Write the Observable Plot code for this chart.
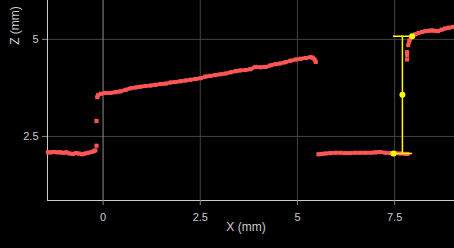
<!DOCTYPE html>
<html>
<head>
<meta charset="utf-8">
<script src="https://cdn.jsdelivr.net/npm/d3@7"></script>
<script src="https://cdn.jsdelivr.net/npm/@observablehq/plot@0.6"></script>
<style>
html,body{margin:0;padding:0;background:#000;}
</style>
</head>
<body>
<div id="chart"></div>
<script>
// Profile segments (X mm, Z mm)
const seg1X = [-1.42,-1.34,-1.26,-1.18,-1.10,-1.02,-0.94,-0.86,-0.78,-0.70,-0.62,-0.54,-0.46,-0.38,-0.30,-0.24,-0.20];
const seg1Z = [2.09,2.09,2.10,2.09,2.09,2.08,2.09,2.06,2.05,2.07,2.06,2.04,2.06,2.08,2.10,2.12,2.14];
const strayX = [-0.17,-0.17,7.82,7.82,7.82];
const strayZ = [2.26,2.90,4.48,4.59,4.67];
const seg2X = [-0.15,-0.13,-0.06,0.06,0.19,0.32,0.45,0.58,0.71,0.84,0.96,1.09,1.22,1.35,1.48,1.61,1.74,1.86,1.99,2.12,2.25,2.38,2.51,2.63,2.76,2.89,3.02,3.15,3.28,3.41,3.53,3.66,3.79,3.92,4.05,4.18,4.31,4.43,4.56,4.69,4.82,4.95,5.08,5.21,5.33,5.39,5.44,5.47];
const seg2Z = [3.51,3.56,3.60,3.62,3.62,3.64,3.66,3.70,3.74,3.76,3.78,3.80,3.81,3.83,3.85,3.86,3.89,3.90,3.92,3.94,3.96,3.98,4.00,4.04,4.06,4.08,4.10,4.12,4.15,4.18,4.20,4.21,4.23,4.29,4.28,4.29,4.33,4.36,4.38,4.41,4.45,4.48,4.50,4.52,4.54,4.53,4.48,4.42];
const seg3X = [5.54,5.62,5.72,5.85,5.98,6.11,6.23,6.36,6.49,6.62,6.75,6.88,7.01,7.13,7.26,7.39,7.52,7.65,7.78,7.83];
const seg3Z = [2.04,2.05,2.06,2.07,2.08,2.08,2.07,2.07,2.08,2.08,2.08,2.08,2.09,2.10,2.08,2.07,2.07,2.06,2.05,2.05];
const seg4X = [7.85,7.88,7.95,8.03,8.11,8.20,8.29,8.37,8.46,8.54,8.62,8.71,8.80,8.90,9.01];
const seg4Z = [4.85,4.97,5.08,5.13,5.16,5.19,5.21,5.22,5.23,5.22,5.21,5.25,5.28,5.30,5.32];
// Step-height measurement marker
const markX = [7.47, 7.95];   // bottom point x, top point x
const markZ = [2.06, 5.08];   // bottom z, top z
const markLineX = 7.70;
const capX = [7.47, 7.96];
// Axes
const xDomain = [-1.43, 9.04];
const zDomain = [0.85, 6.0];
const xTicks = [0, 2.5, 5, 7.5];
const zTicks = [2.5, 5];

const pts = [];
[[seg1X,seg1Z,"a"],[seg2X,seg2Z,"b"],[seg3X,seg3Z,"c"],[seg4X,seg4Z,"d"],[strayX,strayZ,null]].forEach(([xs,zs,s]) => xs.forEach((x,i) => pts.push({x, z: zs[i], seg: s})));
const linePts = pts.filter(d => d.seg);

const markEnds = [{x: markX[0], z: markZ[0]}, {x: markX[1], z: markZ[1]}];
const markMid = [{x: markLineX, z: (markZ[0] + markZ[1]) / 2}];
const caps = [{x1: capX[0], x2: capX[1], z: markZ[0]}, {x1: capX[0], x2: capX[1], z: markZ[1]}];

const chart = Plot.plot({
  width: 454,
  height: 248,
  marginLeft: 47,
  marginRight: 0,
  marginTop: 0,
  marginBottom: 48,
  style: {background: "#000", color: "#cccccc", fontFamily: "'Liberation Sans', Arial, sans-serif", fontSize: "11px", overflow: "visible"},
  x: {domain: xDomain},
  y: {domain: zDomain},
  marks: [
    Plot.gridX(xTicks.filter(d => d !== 0), {stroke: "#444", strokeOpacity: 1}),
    Plot.gridY(zTicks, {stroke: "#444", strokeOpacity: 1}),
    Plot.ruleX([0], {stroke: "#8a8a8a"}),
    Plot.ruleX([xDomain[0]], {stroke: "#cccccc"}),
    Plot.ruleY([zDomain[0]], {stroke: "#cccccc"}),
    Plot.axisX(xTicks, {tickSize: 5, tickPadding: 8, stroke: "#888", fill: "#cccccc", label: null, tickFormat: d => String(d)}),
    Plot.axisY(zTicks, {tickSize: 5, tickPadding: 4, stroke: "#888", fill: "#cccccc", label: null, tickFormat: d => String(d)}),
    Plot.text(["X (mm)"], {frameAnchor: "bottom", dx: -5, dy: 30, fill: "#cccccc", fontSize: 12}),
    Plot.text(["Z (mm)"], {frameAnchor: "top-left", textAnchor: "middle", dx: -37, dy: 25, rotate: -90, fill: "#cccccc", fontSize: 12}),
    Plot.line(linePts, {x: "x", y: "z", z: "seg", stroke: "#ff5555", strokeWidth: 3.6, strokeLinejoin: "round", curve: "linear"}),
    Plot.dot(pts, {x: "x", y: "z", symbol: "square", r: 2.3, fill: "#ff5555", stroke: null}),
    Plot.ruleX([markLineX], {y1: markZ[0], y2: markZ[1], stroke: "#ffff00", strokeWidth: 1.5}),
    Plot.ruleY(caps, {x1: "x1", x2: "x2", y: "z", stroke: "#ffff00", strokeWidth: 1.5}),
    Plot.dot(markEnds, {x: "x", y: "z", r: 3, fill: "#ffff00"}),
    Plot.dot(markMid, {x: "x", y: "z", r: 3, fill: "#ffff00"})
  ]
});
document.getElementById("chart").appendChild(chart);
</script>
</body>
</html>
